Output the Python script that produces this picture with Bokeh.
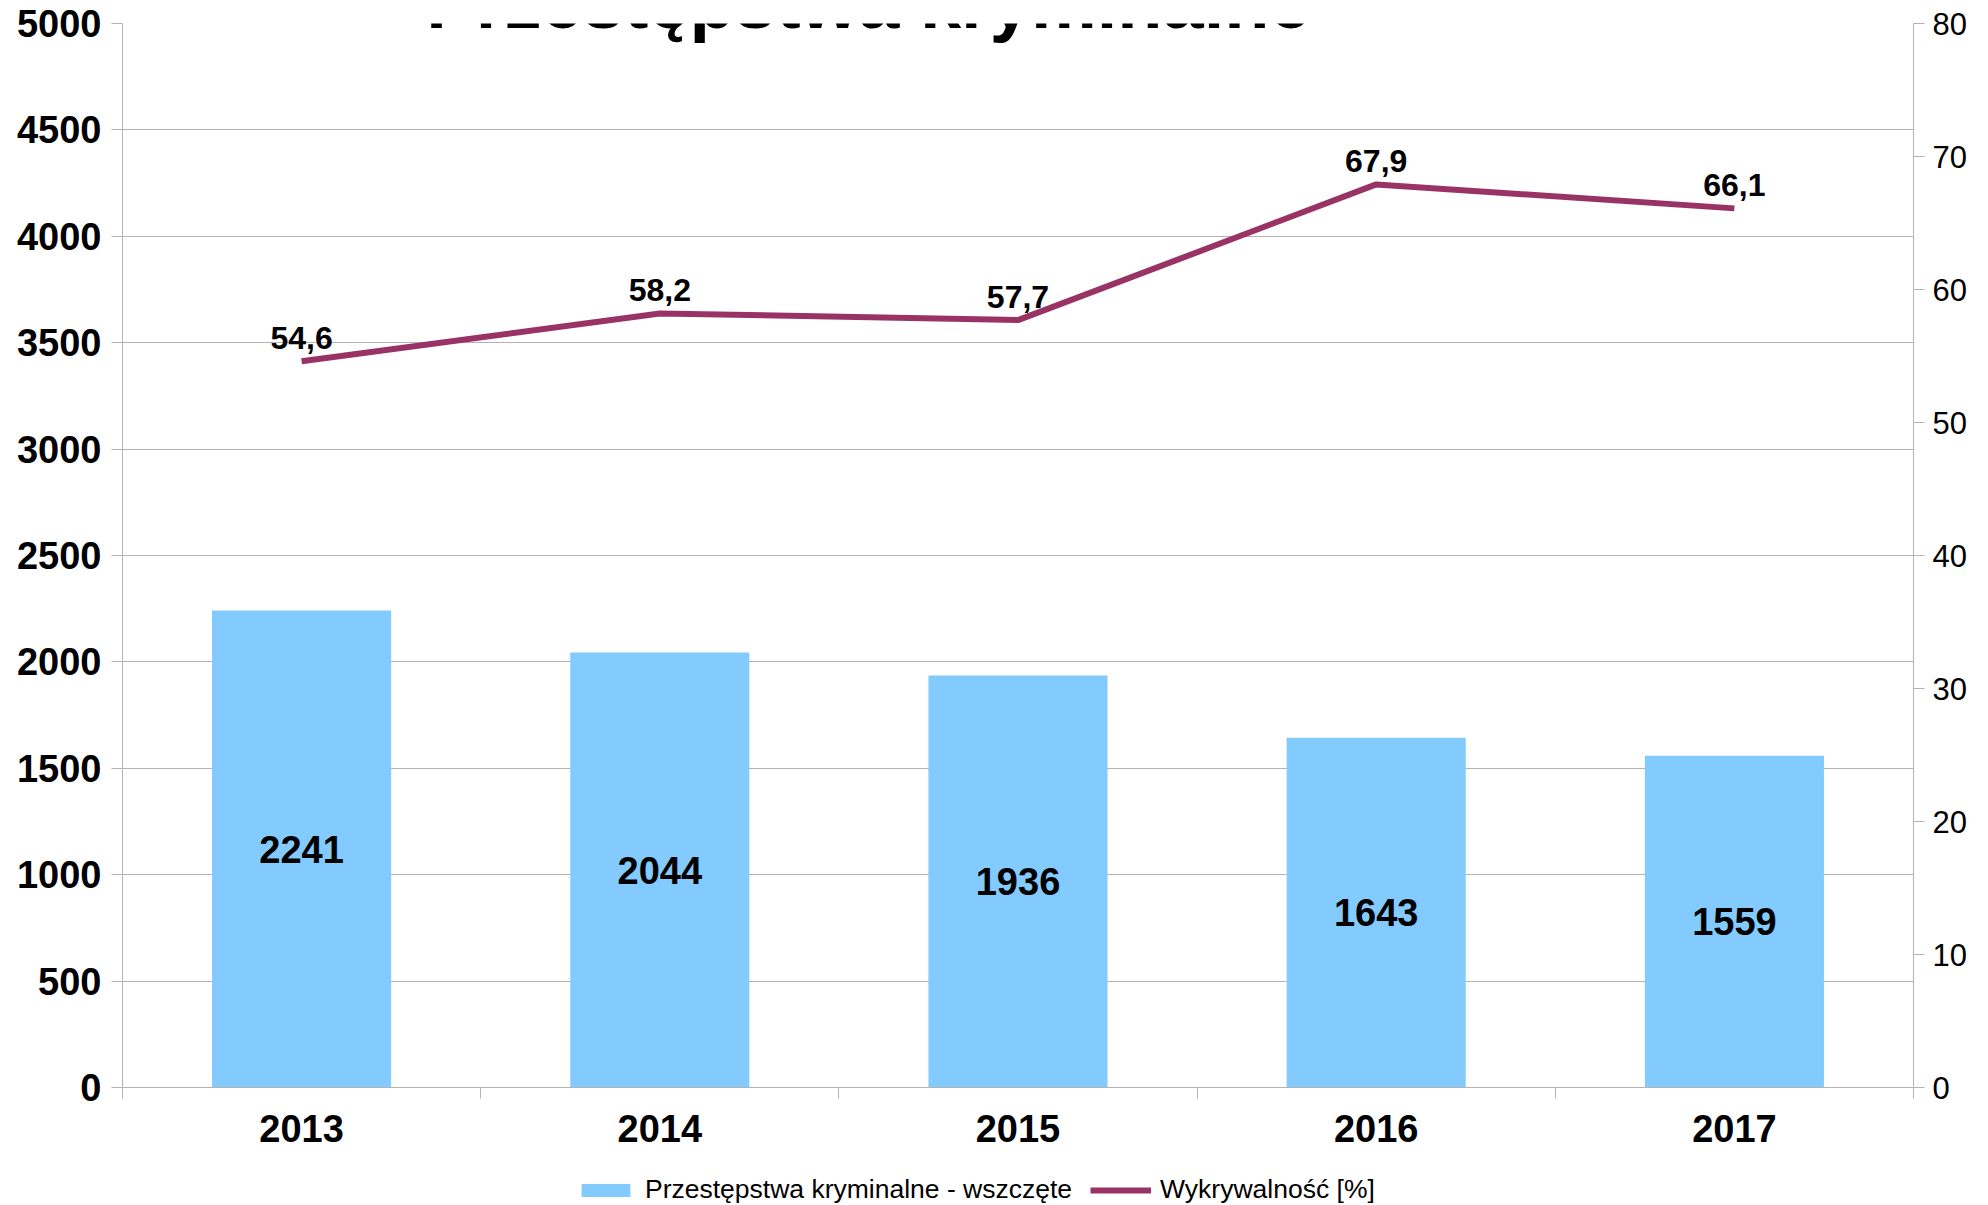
from bokeh.plotting import figure
from bokeh.layouts import column
from bokeh.models import Range1d, LinearAxis, FixedTicker, Label, Legend, LegendItem
from bokeh.core.properties import value
from bokeh.embed import file_html
from bokeh.resources import INLINE

# ---- data ----
years = ["2013", "2014", "2015", "2016", "2017"]
cases = [2241, 2044, 1936, 1643, 1559]
detect = [54.6, 58.2, 57.7, 67.9, 66.1]
detect_labels = ["54,6", "58,2", "57,7", "67,9", "66,1"]
left_ticks = [0, 500, 1000, 1500, 2000, 2500, 3000, 3500, 4000, 4500, 5000]
right_ticks = [0, 10, 20, 30, 40, 50, 60, 70, 80]
title_text = "Przestępstwa kryminalne"
legend_labels = ["Przestępstwa kryminalne - wszczęte", "Wykrywalność [%]"]

FONT = "Liberation Sans"
GRID = "#b3b3b3"
BAR = "#83CAFF"
LINE = "#993366"

xs = [i + 0.5 for i in range(len(years))]
bounds = list(range(len(years) + 1))

p = figure(width=1985, height=1152,
           x_range=Range1d(0, len(years)), y_range=Range1d(0, 5000),
           output_backend="svg", toolbar_location=None,
           min_border_left=122, min_border_right=72,
           min_border_top=23, min_border_bottom=65)
p.outline_line_color = None
p.background_fill_color = "white"
p.border_fill_color = "white"
p.xgrid.visible = False
p.ygrid.grid_line_color = GRID
p.ygrid.grid_line_width = 1
p.ygrid.ticker = FixedTicker(ticks=left_ticks)

p.extra_y_ranges = {"pct": Range1d(0, 80)}

# x axis
xa = p.xaxis[0]
xa.ticker = FixedTicker(ticks=xs, minor_ticks=bounds)
xa.major_label_overrides = {x: y for x, y in zip(xs, years)}
xa.major_tick_out = 0
xa.major_tick_in = 0
xa.minor_tick_out = 11
xa.minor_tick_in = 0
xa.minor_tick_line_color = GRID
xa.axis_line_color = GRID
xa.major_label_text_font = FONT
xa.major_label_text_font_size = "38px"
xa.major_label_text_font_style = "bold"
xa.major_label_text_color = "black"
xa.major_label_standoff = 16

# left axis
ya = p.yaxis[0]
ya.ticker = FixedTicker(ticks=left_ticks, minor_ticks=[])
ya.major_tick_out = 11
ya.major_tick_in = 0
ya.minor_tick_out = 0
ya.minor_tick_in = 0
ya.major_tick_line_color = GRID
ya.axis_line_color = GRID
ya.major_label_text_font = FONT
ya.major_label_text_font_size = "38px"
ya.major_label_text_font_style = "bold"
ya.major_label_text_color = "black"
ya.major_label_standoff = 10

# right axis
ra = LinearAxis(y_range_name="pct", ticker=FixedTicker(ticks=right_ticks, minor_ticks=[]))
ra.major_tick_out = 11
ra.major_tick_in = 0
ra.minor_tick_out = 0
ra.minor_tick_in = 0
ra.major_tick_line_color = GRID
ra.axis_line_color = GRID
ra.major_label_text_font = FONT
ra.major_label_text_font_size = "31px"
ra.major_label_text_color = "black"
ra.major_label_standoff = 8
p.add_layout(ra, "right")

# bars
bars = p.vbar(x=xs, top=cases, width=0.5, fill_color=BAR, line_color=None)
p.text(x=xs, y=[c / 2 for c in cases], text=[str(c) for c in cases],
       text_align="center", text_baseline="middle",
       text_font=value(FONT), text_font_size="38px", text_font_style="bold",
       text_color="black")

# line
ln = p.line(x=xs, y=detect, y_range_name="pct", line_color=LINE, line_width=6)
p.text(x=xs, y=detect, y_range_name="pct", text=detect_labels,
       text_align="center", text_baseline="middle", y_offset=-23,
       text_font=value(FONT), text_font_size="32px", text_font_style="bold",
       text_color="black")

# title
p.add_layout(Label(x=746, y=1085, x_units="screen", y_units="screen",
                   text=title_text, text_align="center", text_baseline="middle",
                   text_font=FONT, text_font_size="74px", text_font_style="bold",
                   text_color="black"))

# legend strip (separate figure directly below the chart)
q = figure(width=1985, height=53, x_range=Range1d(0, 1), y_range=Range1d(0, 1),
           x_axis_type=None, y_axis_type=None,
           output_backend="svg", toolbar_location=None, min_border=0)
q.outline_line_color = None
q.xgrid.visible = False
q.ygrid.visible = False
lb = q.vbar(x=xs, top=cases, width=0.5, fill_color=BAR, line_color=None, visible=False)
ll = q.line(x=xs, y=detect, line_color=LINE, line_width=6, visible=False)
legend = Legend(items=[LegendItem(label=legend_labels[0], renderers=[lb]),
                       LegendItem(label=legend_labels[1], renderers=[ll])],
                orientation="horizontal", location=(453, 0),
                glyph_width=61, glyph_height=16, label_standoff=9, spacing=18,
                padding=0, margin=0, border_line_color=None,
                background_fill_alpha=0, click_policy="none",
                label_text_font=FONT, label_text_font_size="26.5px",
                label_text_color="black")
q.add_layout(legend)

layout = column(p, q, spacing=0)
open("out.html", "w").write(file_html(layout, INLINE))
